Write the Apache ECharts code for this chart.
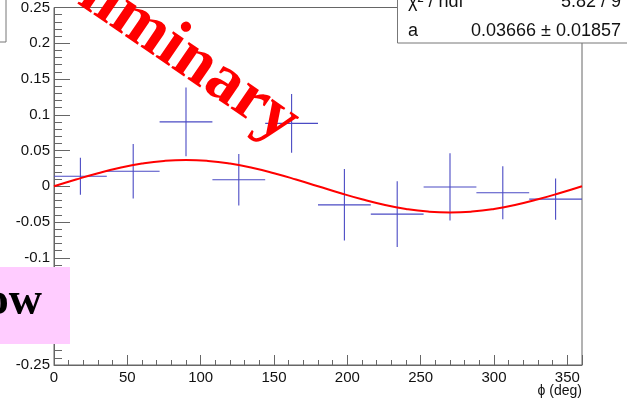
<!DOCTYPE html>
<html>
<head>
<meta charset="utf-8">
<script src="https://cdn.jsdelivr.net/npm/echarts@6/dist/echarts.min.js"></script>
<style>
  html, body { margin: 0; padding: 0; background: #fff; }
  #chart { width: 627px; height: 400px; }
</style>
</head>
<body>
<div id="chart"></div>
<script>
// Azimuthal asymmetry per phi bin
const phiCenters = [18, 54, 90, 126, 162, 198, 234, 270, 306, 342];
const phiHalfWidth = [18, 18, 18, 18, 18, 18, 18, 18, 18, 18];
const asymmetry = [0.014, 0.021, 0.090, 0.009, 0.088, -0.026, -0.039, -0.001, -0.009, -0.018];
const asymmetryErr = [0.026, 0.038, 0.048, 0.036, 0.041, 0.050, 0.046, 0.047, 0.037, 0.029];

// Fitted curve a*sin(phi), sampled every 15 deg
const fitPhi = [0, 15, 30, 45, 60, 75, 90, 105, 120, 135, 150, 165, 180,
                195, 210, 225, 240, 255, 270, 285, 300, 315, 330, 345, 360];
const fitValue = [0, 0.0095, 0.0183, 0.0259, 0.0317, 0.0354, 0.0367, 0.0354, 0.0317, 0.0259, 0.0183, 0.0095, 0,
                  -0.0095, -0.0183, -0.0259, -0.0317, -0.0354, -0.0367, -0.0354, -0.0317, -0.0259, -0.0183, -0.0095, 0];

// Fit statistics
const statLabels = ['\u03c7\u00b2 / ndf', 'a'];
const statValues = ['5.82 / 9', '0.03666 \u00b1 0.01857'];

const SANS = '"Liberation Sans", Arial, Helvetica, sans-serif';
const SERIF = '"Liberation Serif", "Times New Roman", serif';
const AXIS_GREY = '#666';

const points = phiCenters.map((p, i) => [p, asymmetry[i], asymmetryErr[i], phiHalfWidth[i]]);
const fitData = fitPhi.map((p, i) => [p, fitValue[i]]);

const chart = echarts.init(document.getElementById('chart'), null, { renderer: 'canvas' });

chart.setOption({
  animation: false,
  backgroundColor: '#fff',
  grid: {
    left: 54, right: 45, top: 5, bottom: 35,
    show: true, borderColor: AXIS_GREY, borderWidth: 1, backgroundColor: 'transparent'
  },
  xAxis: [
    {
      type: 'value', min: 0, max: 360, interval: 50,
      axisLine: { show: true, onZero: false, lineStyle: { color: AXIS_GREY, width: 1 } },
      axisTick: { show: true, inside: true, length: 10, lineStyle: { color: AXIS_GREY } },
      splitLine: { show: false },
      axisLabel: {
        margin: 5, color: '#111', fontFamily: SANS, fontSize: 15,
        formatter: v => (v % 50 === 0 ? String(v) : '')
      }
    },
    {
      // fine ticks every 10 deg
      type: 'value', min: 0, max: 360, interval: 10, position: 'bottom',
      axisLine: { show: false, onZero: false },
      axisTick: { show: true, inside: true, length: 5, lineStyle: { color: AXIS_GREY } },
      splitLine: { show: false },
      axisLabel: { show: false }
    }
  ],
  yAxis: {
    type: 'value', min: -0.25, max: 0.25, interval: 0.05,
    axisLine: { show: true, onZero: false, lineStyle: { color: AXIS_GREY, width: 1 } },
    axisTick: { show: true, inside: true, length: 16, lineStyle: { color: AXIS_GREY } },
    minorTick: { show: true, splitNumber: 5, length: 8, lineStyle: { color: AXIS_GREY } },
    splitLine: { show: false },
    minorSplitLine: { show: false },
    axisLabel: {
      margin: 4, color: '#111', fontFamily: SANS, fontSize: 15,
      formatter: v => String(parseFloat(v.toFixed(3)))
    }
  },
  series: [
    {
      type: 'custom',
      xAxisIndex: 0,
      data: points,
      z: 3,
      renderItem: (params, api) => {
        const x = api.value(0), y = api.value(1), ey = api.value(2), ex = api.value(3);
        const l = api.coord([x - ex, y]);
        const r = api.coord([x + ex, y]);
        const t = api.coord([x, y + ey]);
        const b = api.coord([x, y - ey]);
        const style = { stroke: '#4a4ac4', lineWidth: 1.1 };
        return {
          type: 'group',
          children: [
            { type: 'line', shape: { x1: l[0], y1: l[1], x2: r[0], y2: r[1] }, style },
            { type: 'line', shape: { x1: t[0], y1: t[1], x2: b[0], y2: b[1] }, style }
          ]
        };
      }
    },
    {
      type: 'line',
      xAxisIndex: 0,
      data: fitData,
      smooth: true,
      showSymbol: false,
      z: 4,
      lineStyle: { color: '#ff0000', width: 2 }
    }
  ],
  graphic: [
    // partially visible box at top-left
    { type: 'rect', z: 50, shape: { x: -2, y: -2, width: 8, height: 44 },
      style: { fill: '#fff', stroke: '#777', lineWidth: 1 } },
    // fit statistics box
    { type: 'rect', z: 50, shape: { x: 397.5, y: -20, width: 240, height: 63 },
      style: { fill: '#fff', stroke: '#777', lineWidth: 1 } },
    { type: 'text', z: 51, x: 408, y: 11,
      style: { text: statLabels[0], font: '18px ' + SANS, fill: '#111', align: 'left', verticalAlign: 'bottom' } },
    { type: 'text', z: 51, x: 621, y: 11,
      style: { text: statValues[0], font: '18px ' + SANS, fill: '#111', align: 'right', verticalAlign: 'bottom' } },
    { type: 'text', z: 51, x: 408, y: 40,
      style: { text: statLabels[1], font: '18px ' + SANS, fill: '#111', align: 'left', verticalAlign: 'bottom' } },
    { type: 'text', z: 51, x: 621, y: 40,
      style: { text: statValues[1], font: '18px ' + SANS, fill: '#111', align: 'right', verticalAlign: 'bottom' } },
    // watermark
    { type: 'text', z: 60, x: 292, y: 129, rotation: -0.6,
      style: { text: 'Preliminary', font: 'bold 68px ' + SERIF, fill: '#ff0000', align: 'right', verticalAlign: 'middle' } },
    // pink label box
    { type: 'rect', z: 60, shape: { x: 0, y: 267, width: 70, height: 77 },
      style: { fill: '#ffccff' } },
    { type: 'text', z: 61, x: 42, y: 325,
      style: { text: 'ow', font: 'bold 46px ' + SERIF, fill: '#000', align: 'right', verticalAlign: 'bottom' } },
    // x axis title
    { type: 'text', z: 10, x: 582, y: 398,
      style: { text: '\u03d5 (deg)', font: '14px ' + SANS, fill: '#111', align: 'right', verticalAlign: 'bottom' } }
  ]
});
</script>
</body>
</html>
